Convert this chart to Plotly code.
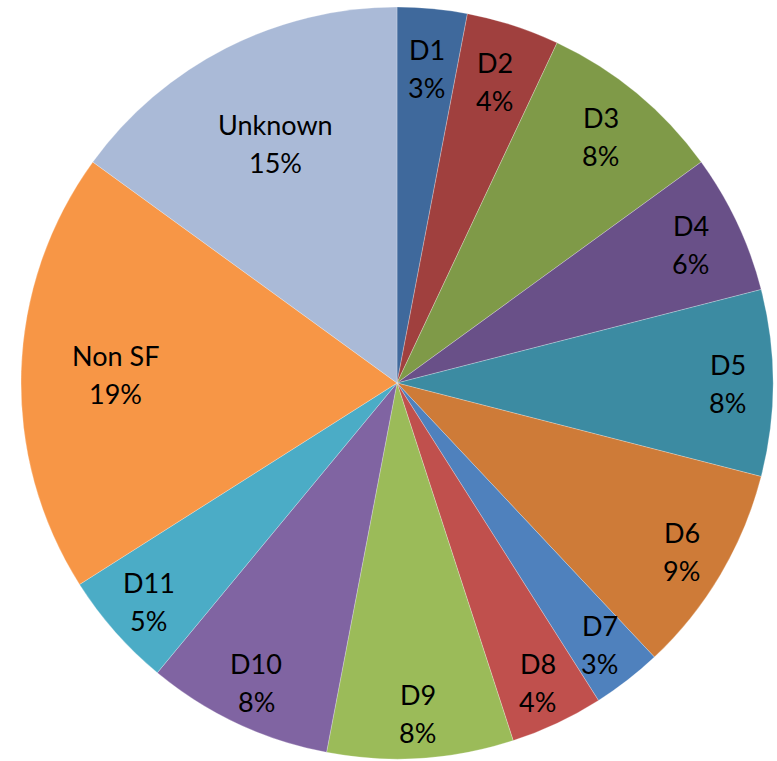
import math
import plotly.graph_objects as go

# Share of records by district
labels = ["D1", "D2", "D3", "D4", "D5", "D6", "D7", "D8", "D9", "D10", "D11", "Non SF", "Unknown"]
values = [3, 4, 8, 6, 8, 9, 3, 4, 8, 8, 5, 19, 15]
colors = ["#3F699C", "#A0403E", "#7F9A48", "#695088", "#3C8BA2", "#CE7B38", "#4F81BD",
          "#C0504D", "#9BBB59", "#8064A2", "#4BACC6", "#F79646", "#AABAD7"]

W, H = 777, 761
cx, cy, R = 397, 383, 376          # pie centre and radius in pixels
FONT = dict(family="Lato, Open Sans, sans-serif", size=27, color="#000000")
LINE_GAP = 19                      # half the distance between the two label lines

fig = go.Figure(go.Pie(
    labels=labels,
    values=values,
    sort=False,
    direction="clockwise",
    rotation=0,
    marker=dict(colors=colors, line=dict(color="rgba(255,255,255,0.5)", width=0.5)),
    textinfo="none",
    domain=dict(x=[(cx - R) / W, (cx + R) / W], y=[(H - cy - R) / H, (H - cy + R) / H]),
    showlegend=False,
    hoverinfo="label+percent",
))

# Data labels: name and percentage placed along each slice's mid-angle,
# large slices pulled further in, labels near the top pulled in slightly.
total = sum(values)
cum = 0.0
annotations = []
for lab, val in zip(labels, values):
    share = val / total
    theta = 2 * math.pi * (cum + share / 2)  # clockwise from 12 o'clock
    cum += share
    up = max(0.0, math.cos(theta))
    if share < 0.1:
        frac = 0.88 - 0.04 * up
    else:
        frac = 0.75 - 0.04 * up
    d = R * frac
    px = cx + d * math.sin(theta)
    py = cy - d * math.cos(theta)
    xp, yp = px / W, 1 - py / H
    for text, shift in ((lab, LINE_GAP), (f"{round(share * 100)}%", -LINE_GAP)):
        annotations.append(dict(
            x=xp, y=yp, xref="paper", yref="paper",
            text=text, showarrow=False, yshift=shift,
            xanchor="center", yanchor="middle", font=FONT,
        ))

fig.update_layout(
    width=W, height=H,
    margin=dict(l=0, r=0, t=0, b=0),
    paper_bgcolor="white",
    plot_bgcolor="white",
    annotations=annotations,
)

fig.write_html("out.html")
